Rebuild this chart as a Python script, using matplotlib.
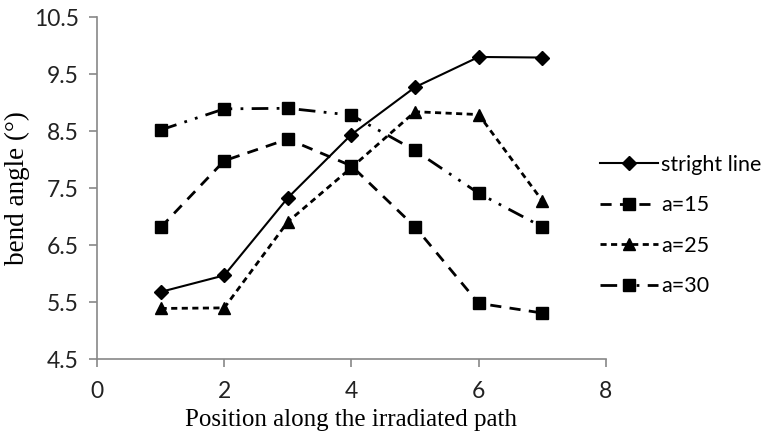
import matplotlib
matplotlib.use('Agg')
import matplotlib.pyplot as plt

# positions along the path
positions = [1, 2, 3, 4, 5, 6, 7]

# bend angle (deg) for each path shape
stright_line = [5.68, 5.97, 7.33, 8.44, 9.27, 9.80, 9.79]
a15 = [6.81, 7.98, 8.36, 7.89, 6.82, 5.48, 5.31]
a25 = [5.39, 5.40, 6.91, 7.86, 8.84, 8.79, 7.28]
a30 = [8.52, 8.89, 8.90, 8.78, 8.16, 7.41, 6.82]

labels = ['stright line', 'a=15', 'a=25', 'a=30']

sans = ['Lato', 'DejaVu Sans']
serif = 'Liberation Serif'

fig = plt.figure(figsize=(7.64, 4.37), dpi=100)
ax = fig.add_axes([0.127, 0.178, 0.666, 0.783])

ax.plot(positions, stright_line, color='black', lw=1.5, ls='-',
        marker='D', ms=7, label=labels[0])
ax.plot(positions, a15, color='black', lw=2, ls=(0, (4, 3)),
        marker='s', ms=8, label=labels[1])
ax.plot(positions, a25, color='black', lw=2, ls=(0, (2.2, 1.6)),
        marker='^', ms=8, label=labels[2])
ax.plot(positions, a30, color='black', lw=2, ls=(0, (6, 3, 1, 3, 1, 3)),
        marker='s', ms=8, label=labels[3])

ax.set_xlim(0, 8)
ax.set_ylim(4.5, 10.5)
ax.set_xticks([0, 2, 4, 6, 8])
ax.set_yticks([4.5, 5.5, 6.5, 7.5, 8.5, 9.5, 10.5])
ax.set_yticklabels(['4.5', '5.5', '6.5', '7.5', '8.5', '9.5', '10.5'])

for s in ['top', 'right']:
    ax.spines[s].set_visible(False)
for s in ['left', 'bottom']:
    ax.spines[s].set_color('#888888')
    ax.spines[s].set_linewidth(1.2)
ax.tick_params(direction='out', length=6, width=1.2, color='#888888')
ax.tick_params(axis='x', pad=10)
ax.tick_params(axis='y', pad=7)
for lab in ax.get_xticklabels() + ax.get_yticklabels():
    lab.set_family(sans)
    lab.set_fontsize(16.5)
    lab.set_color('#222222')

ax.set_xlabel('Position along the irradiated path', family=serif,
              fontsize=18, labelpad=5)
ax.set_ylabel('bend angle (°)', family=serif, fontsize=19.5, labelpad=3)

leg = fig.legend(loc='upper left', bbox_to_anchor=(0.774, 0.665), frameon=False,
                 prop={'family': sans, 'size': 15.5}, handlelength=2.7,
                 handletextpad=0.15, labelspacing=0.95, borderaxespad=0)

fig.savefig('out.png', dpi=100)
